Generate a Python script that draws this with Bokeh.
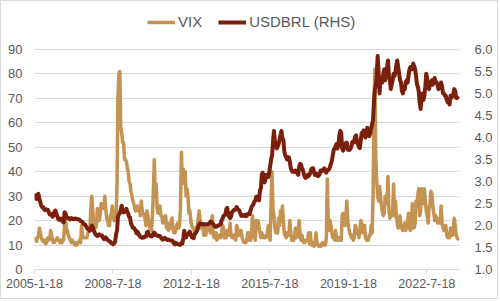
import pandas as pd
from bokeh.plotting import figure
from bokeh.models import Range1d, LinearAxis, FixedTicker, Legend, LegendItem, ColumnDataSource, NumeralTickFormatter
from bokeh.embed import file_html
from bokeh.resources import INLINE

years = list(range(2005, 2024))

# VIX, two readings per month (roughly the 8th and 23rd), one row per year
vix = [
    13, 12.5, 12, 11.5, 13, 14, 17, 15, 13, 12, 11.5, 12, 11, 10.5, 12, 13, 12, 12.5, 16, 14, 12, 11, 11, 12,
    12, 13, 12, 12, 11, 12, 11, 12, 12, 19, 21, 15, 16, 14, 13, 12, 11, 12, 11, 11, 10, 11, 10, 11,
    11, 12, 11, 18, 15, 13, 13, 13, 13, 13, 15, 16, 16, 24, 30, 25, 20, 18, 17, 18, 25, 22, 20, 22,
    27, 26, 25, 25, 30, 25, 21, 20, 18, 18, 22, 23, 26, 22, 20, 21, 21, 35, 70, 80, 81, 58, 56, 52,
    52, 45, 45, 44, 42, 40, 36, 35, 32, 30, 28, 27, 25, 24, 25, 26, 24, 25, 22, 28, 24, 23, 22, 21,
    18, 24, 22, 20, 17, 17, 16, 22, 32, 45, 30, 35, 25, 23, 25, 26, 22, 22, 19, 21, 20, 22, 17, 17,
    16, 19, 17, 20, 21, 17, 15, 15, 16, 18, 19, 17, 18, 25, 48, 35, 41, 38, 40, 30, 33, 30, 23, 24,
    20, 18, 17, 17, 15, 15, 17, 18, 21, 24, 20, 17, 17, 18, 14, 17, 14, 16, 16, 18, 16, 15, 17, 22,
    14, 13, 14, 15, 12, 13, 14, 13, 13, 15, 18, 17, 13, 13, 13, 16, 14, 15, 19, 14, 13, 13, 14, 13,
    12, 18, 17, 14, 15, 14, 16, 13, 12, 11, 11, 11, 12, 15, 15, 12, 12, 15, 22, 16, 13, 12, 20, 17,
    20, 17, 15, 13, 15, 14, 13, 13, 13, 14, 15, 18, 13, 12, 28, 40, 24, 22, 17, 15, 16, 15, 21, 18,
    24, 22, 26, 20, 15, 14, 13, 15, 15, 14, 20, 15, 12, 12, 12, 13, 17, 13, 14, 17, 20, 13, 12, 14,
    11.5, 11, 11, 12, 12, 12, 15, 10.5, 15, 10, 10, 11, 9.5, 10, 15, 11, 10, 9.5, 10, 9.5, 10.5, 11, 10, 10.5,
    10, 13, 37, 20, 16, 20, 18, 15, 13, 13, 12, 16, 13, 12, 13, 12, 13, 12, 22, 23, 20, 18, 22, 28,
    20, 17, 15, 14, 13, 14, 12, 13, 18, 17, 15, 15, 13, 16, 20, 19, 15, 16, 18, 13, 12, 12, 12, 14,
    14, 18, 15, 30, 60, 82, 45, 36, 30, 28, 34, 30, 26, 24, 22, 23, 30, 27, 28, 38, 24, 21, 22, 22,
    24, 35, 22, 28, 22, 19, 17, 18, 22, 17, 17, 16, 18, 19, 16, 17, 20, 23, 17, 16, 17, 27, 21, 17,
    19, 28, 26, 31, 33, 22, 24, 33, 32, 27, 33, 28, 24, 22, 19, 25, 27, 32, 31, 26, 23, 20, 22, 21,
    19, 19, 19, 21, 26, 19, 17, 16, 17, 18, 14, 13, 13, 13, 17, 15, 14, 17, 21, 18, 14, 13, 12.5, 13,
]

# USDBRL (right-hand scale), same sampling
usdbrl = [
    2.70, 2.68, 2.62, 2.60, 2.70, 2.72, 2.60, 2.53, 2.45, 2.42, 2.42, 2.37, 2.35, 2.37, 2.36, 2.36, 2.30, 2.25, 2.25, 2.26, 2.20, 2.22, 2.30, 2.34,
    2.28, 2.22, 2.15, 2.13, 2.15, 2.16, 2.12, 2.09, 2.07, 2.30, 2.27, 2.19, 2.18, 2.17, 2.15, 2.14, 2.17, 2.16, 2.15, 2.14, 2.16, 2.16, 2.14, 2.14,
    2.14, 2.13, 2.10, 2.09, 2.08, 2.05, 2.03, 2.02, 1.98, 1.94, 1.92, 1.93, 1.88, 1.90, 2.00, 1.97, 1.90, 1.84, 1.80, 1.78, 1.76, 1.79, 1.80, 1.78,
    1.77, 1.77, 1.72, 1.69, 1.70, 1.73, 1.70, 1.67, 1.66, 1.64, 1.63, 1.60, 1.59, 1.57, 1.60, 1.63, 1.80, 1.88, 2.20, 2.25, 2.28, 2.35, 2.45, 2.33,
    2.30, 2.32, 2.32, 2.38, 2.30, 2.28, 2.20, 2.18, 2.05, 2.00, 1.95, 1.95, 1.92, 1.88, 1.82, 1.86, 1.82, 1.77, 1.74, 1.73, 1.72, 1.74, 1.73, 1.75,
    1.75, 1.84, 1.86, 1.80, 1.78, 1.76, 1.75, 1.77, 1.82, 1.84, 1.80, 1.78, 1.78, 1.76, 1.76, 1.76, 1.72, 1.70, 1.68, 1.69, 1.72, 1.70, 1.69, 1.67,
    1.68, 1.67, 1.66, 1.66, 1.66, 1.63, 1.59, 1.57, 1.61, 1.58, 1.58, 1.57, 1.57, 1.56, 1.60, 1.59, 1.72, 1.88, 1.78, 1.73, 1.80, 1.80, 1.83, 1.86,
    1.78, 1.74, 1.72, 1.71, 1.80, 1.82, 1.86, 1.89, 1.97, 2.02, 2.05, 2.03, 2.03, 2.04, 2.03, 2.02, 2.03, 2.03, 2.03, 2.03, 2.06, 2.09, 2.08, 2.05,
    2.03, 2.00, 1.97, 1.97, 1.98, 2.00, 2.00, 2.02, 2.03, 2.12, 2.15, 2.22, 2.23, 2.25, 2.37, 2.40, 2.25, 2.20, 2.17, 2.20, 2.30, 2.32, 2.35, 2.36,
    2.37, 2.42, 2.38, 2.35, 2.34, 2.28, 2.22, 2.24, 2.22, 2.22, 2.24, 2.21, 2.22, 2.26, 2.27, 2.26, 2.35, 2.42, 2.45, 2.48, 2.55, 2.56, 2.65, 2.66,
    2.63, 2.57, 2.80, 2.85, 3.15, 3.20, 3.05, 2.98, 3.05, 3.15, 3.10, 3.10, 3.20, 3.35, 3.50, 3.60, 3.90, 4.15, 3.90, 3.88, 3.75, 3.80, 3.85, 3.95,
    4.05, 4.15, 3.98, 3.95, 3.70, 3.60, 3.55, 3.50, 3.55, 3.55, 3.45, 3.30, 3.25, 3.22, 3.22, 3.22, 3.25, 3.24, 3.18, 3.15, 3.35, 3.40, 3.38, 3.30,
    3.25, 3.17, 3.10, 3.08, 3.12, 3.15, 3.12, 3.15, 3.20, 3.28, 3.30, 3.30, 3.20, 3.15, 3.18, 3.17, 3.12, 3.14, 3.17, 3.25, 3.25, 3.24, 3.28, 3.30,
    3.25, 3.20, 3.25, 3.26, 3.28, 3.33, 3.40, 3.47, 3.60, 3.72, 3.75, 3.80, 3.85, 3.75, 3.85, 4.05, 4.15, 4.10, 3.75, 3.70, 3.78, 3.85, 3.88, 3.88,
    3.72, 3.76, 3.72, 3.76, 3.80, 3.90, 3.88, 3.93, 4.02, 4.05, 3.88, 3.85, 3.78, 3.76, 3.95, 4.10, 4.12, 4.16, 4.08, 4.00, 4.15, 4.22, 4.10, 4.03,
    4.10, 4.20, 4.30, 4.40, 4.80, 5.10, 5.20, 5.40, 5.85, 5.50, 5.00, 5.35, 5.30, 5.25, 5.45, 5.55, 5.30, 5.50, 5.60, 5.75, 5.40, 5.30, 5.10, 5.20,
    5.30, 5.45, 5.40, 5.50, 5.65, 5.75, 5.60, 5.45, 5.30, 5.25, 5.05, 5.00, 5.15, 5.10, 5.25, 5.30, 5.25, 5.40, 5.55, 5.60, 5.55, 5.55, 5.68, 5.62,
    5.55, 5.40, 5.20, 5.15, 5.05, 4.80, 4.65, 4.90, 5.00, 4.85, 4.95, 5.15, 5.45, 5.35, 5.15, 5.10, 5.20, 5.25, 5.30, 5.20, 5.30, 5.35, 5.25, 5.25,
    5.20, 5.10, 5.15, 5.20, 5.25, 5.15, 5.00, 5.00, 4.95, 4.95, 4.85, 4.80, 4.80, 4.75, 4.95, 4.90, 4.95, 5.00, 5.10, 5.05, 4.90, 4.90, 4.90, 4.88,
]

x_tick_dates = ["2005-01-18", "2008-07-18", "2012-01-18", "2015-07-18", "2019-01-18", "2022-07-18"]
x_tick_labels = ["2005-1-18", "2008-7-18", "2012-1-18", "2015-7-18", "2019-1-18", "2022-7-18"]
left_ticks = [0, 10, 20, 30, 40, 50, 60, 70, 80, 90]
right_ticks = [1.0, 1.5, 2.0, 2.5, 3.0, 3.5, 4.0, 4.5, 5.0, 5.5, 6.0]

EPOCH = pd.Timestamp("1970-01-01")


def to_ms(t):
    return (pd.Timestamp(t) - EPOCH).total_seconds() * 1000.0


dates = []
for y in years:
    for m in range(1, 13):
        for d in (8, 23):
            dates.append(pd.Timestamp(y, m, d))
n = min(len(dates), len(vix), len(usdbrl))
x_ms = [to_ms(t) for t in dates[:n]]

src = ColumnDataSource(dict(x=x_ms, vix=vix[:n], brl=usdbrl[:n]))

TAN = "#C59351"
BROWN = "#7A1F0B"
TXT = "#595959"
GRID = "#D9D9D9"

# layout: the plotted band (0..90 / 1.0..6.0) is 220px tall; the frame extends
# above it so the legend can sit inside the frame.
FIG_H = 299
TOP = 5
BOTTOM = 31
frame_h = FIG_H - TOP - BOTTOM
band_h = 220.0
left_top = 90.0 * frame_h / band_h
right_top = 1.0 + 5.0 * frame_h / band_h

p = figure(width=498, height=FIG_H, output_backend="svg", toolbar_location=None,
           x_range=Range1d(to_ms("2005-01-18"), to_ms("2024-01-01")),
           y_range=Range1d(0, left_top),
           min_border_left=33, min_border_right=40, min_border_top=TOP, min_border_bottom=BOTTOM)
p.styles = {"border": "1px solid #D9D9D9"}
p.outline_line_color = None
p.background_fill_color = "white"
p.border_fill_color = "white"
p.extra_y_ranges = {"brl": Range1d(1.0, right_top)}

# axes
p.xaxis.ticker = FixedTicker(ticks=[to_ms(d) for d in x_tick_dates])
p.xaxis.major_label_overrides = {to_ms(d): lab for d, lab in zip(x_tick_dates, x_tick_labels)}
p.xaxis.axis_line_color = GRID
p.xaxis.major_tick_line_color = GRID
p.xaxis.major_tick_out = 5
p.xaxis.major_tick_in = 0
p.xaxis.minor_tick_line_color = None
p.xaxis.major_label_standoff = 4
p.xaxis.major_label_text_font = "Liberation Sans"
p.xaxis.major_label_text_font_size = "12.5px"
p.xaxis.major_label_text_color = TXT

p.yaxis.ticker = FixedTicker(ticks=left_ticks)
p.yaxis.axis_line_color = None
p.yaxis.major_tick_line_color = None
p.yaxis.minor_tick_line_color = None
p.yaxis.major_label_standoff = 6
p.yaxis.major_label_text_font = "Liberation Sans"
p.yaxis.major_label_text_font_size = "13px"
p.yaxis.major_label_text_color = TXT

ry = LinearAxis(y_range_name="brl", ticker=FixedTicker(ticks=right_ticks),
                formatter=NumeralTickFormatter(format="0.0"))
ry.axis_line_color = None
ry.major_tick_line_color = None
ry.minor_tick_line_color = None
ry.major_label_standoff = 9
ry.major_label_text_font = "Liberation Sans"
ry.major_label_text_font_size = "13px"
ry.major_label_text_color = TXT
p.add_layout(ry, "right")

p.xgrid.grid_line_color = None
p.ygrid.ticker = FixedTicker(ticks=left_ticks)
p.ygrid.grid_line_color = GRID
p.ygrid.grid_line_width = 1

r_vix = p.line("x", "vix", source=src, line_color=TAN, line_width=3.5, line_join="round")
r_brl = p.line("x", "brl", source=src, y_range_name="brl", line_color=BROWN, line_width=4, line_join="round")

legend = Legend(items=[LegendItem(label="VIX", renderers=[r_vix]),
                       LegendItem(label="USDBRL (RHS)", renderers=[r_brl])],
                orientation="horizontal", location=(113, 239),
                padding=0, margin=0, spacing=16, label_standoff=3,
                glyph_width=28, glyph_height=16, label_height=16,
                label_text_font="Liberation Sans", label_text_font_size="15px",
                label_text_color=TXT, border_line_color=None, background_fill_alpha=0)
p.add_layout(legend, "center")

open("out.html", "w").write(file_html(p, INLINE))
